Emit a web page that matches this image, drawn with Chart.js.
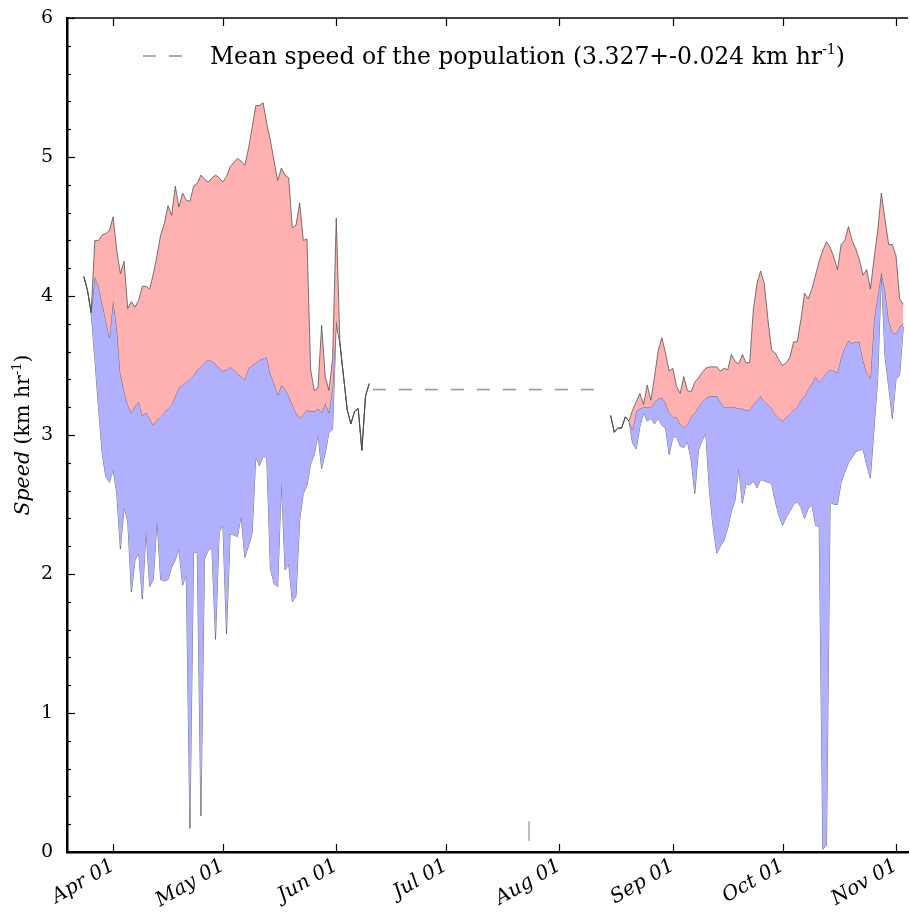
<!DOCTYPE html>
<html>
<head>
<meta charset="utf-8">
<script src="https://cdn.jsdelivr.net/npm/chart.js@4.4.1/dist/chart.umd.min.js"></script>
<style>
  html, body { margin: 0; padding: 0; background: #fff; }
  canvas { display: block; }
</style>
</head>
<body>
<canvas id="speed" width="910" height="915"></canvas>
<script>
// days are counted from Apr 01
const monthTicks = [0, 30, 61, 91, 122, 153, 183, 214];
const monthLabels = ['Apr 01', 'May 01', 'Jun 01', 'Jul 01', 'Aug 01', 'Sep 01', 'Oct 01', 'Nov 01'];

// spring block, one value per day starting at leftStart
const leftStart = -8;
const upperLeft = [4.14, 4.04, 3.88, 4.40, 4.40, 4.44, 4.45, 4.47, 4.57, 4.33,
  4.16, 4.25, 3.91, 3.96, 3.92, 3.97, 4.07, 4.07, 4.05, 4.16,
  4.29, 4.44, 4.52, 4.65, 4.58, 4.79, 4.64, 4.74, 4.69, 4.68,
  4.79, 4.81, 4.87, 4.84, 4.82, 4.85, 4.87, 4.85, 4.82, 4.86,
  4.93, 4.96, 4.99, 4.97, 4.94, 5.06, 5.21, 5.37, 5.37, 5.39,
  5.24, 5.12, 4.97, 4.83, 4.92, 4.87, 4.85, 4.49, 4.51, 4.67,
  4.40, 4.41, 3.47, 3.32, 3.34, 3.79, 3.42, 3.32, 3.55, 4.56,
  3.66, 3.42, 3.18, 3.08, 3.17, 3.19, 2.89, 3.28, 3.37];
const middleLeft = [4.14, 4.04, 3.88, 4.14, 4.07, 3.95, 3.83, 3.70, 3.97, 3.78,
  3.44, 3.32, 3.22, 3.16, 3.21, 3.24, 3.14, 3.16, 3.12, 3.07,
  3.11, 3.13, 3.16, 3.19, 3.22, 3.28, 3.34, 3.36, 3.38, 3.40,
  3.43, 3.47, 3.49, 3.52, 3.54, 3.53, 3.51, 3.48, 3.46, 3.47,
  3.49, 3.47, 3.44, 3.42, 3.40, 3.48, 3.50, 3.52, 3.54, 3.55,
  3.56, 3.44, 3.37, 3.29, 3.36, 3.33, 3.28, 3.22, 3.16, 3.12,
  3.15, 3.18, 3.17, 3.17, 3.19, 3.16, 3.23, 3.16, 3.35, 3.83,
  3.66, 3.42, 3.18, 3.08, 3.17, 3.19, 2.89, 3.28, 3.37];
const lowerLeft = [4.14, 4.04, 3.88, 3.55, 3.20, 2.87, 2.70, 2.66, 2.75, 2.58,
  2.18, 2.48, 2.38, 1.87, 2.10, 2.15, 1.82, 2.31, 1.91, 1.96,
  2.39, 1.96, 1.95, 1.96, 2.05, 2.10, 2.18, 1.92, 1.99, 0.17,
  2.15, 2.16, 0.26, 2.11, 2.17, 2.19, 1.53, 2.30, 2.35, 1.57,
  2.29, 2.28, 2.27, 2.42, 2.12, 2.20, 2.29, 2.84, 2.78, 2.85,
  2.83, 2.04, 1.93, 1.91, 2.66, 2.03, 2.07, 1.80, 1.84, 2.39,
  2.58, 2.64, 2.79, 2.86, 3.00, 2.76, 2.87, 3.02, 3.04, 3.80,
  3.66, 3.42, 3.18, 3.08, 3.17, 3.19, 2.89, 3.28, 3.37];

// autumn block
const rightStart = 136;
const upperRight = [3.14, 3.02, 3.05, 3.05, 3.13, 3.10, 3.18, 3.24, 3.30, 3.22,
  3.36, 3.25, 3.42, 3.61, 3.70, 3.59, 3.46, 3.48, 3.35, 3.30,
  3.42, 3.32, 3.31, 3.38, 3.41, 3.45, 3.48, 3.49, 3.49, 3.49,
  3.46, 3.48, 3.47, 3.58, 3.53, 3.51, 3.58, 3.52, 3.52, 3.90,
  4.09, 4.18, 4.09, 3.83, 3.61, 3.59, 3.54, 3.50, 3.52, 3.56,
  3.67, 3.67, 3.83, 4.02, 3.98, 4.05, 4.15, 4.25, 4.33, 4.39,
  4.35, 4.28, 4.19, 4.37, 4.40, 4.50, 4.40, 4.34, 4.26, 4.15,
  4.19, 4.05, 4.27, 4.47, 4.74, 4.55, 4.37, 4.37, 4.29, 3.98, 3.94];
const middleRight = [3.14, 3.02, 3.05, 3.05, 3.13, 3.10, 3.04, 3.17, 3.19, 3.20,
  3.20, 3.20, 3.24, 3.26, 3.27, 3.23, 3.16, 3.13, 3.13, 3.08,
  3.05, 3.08, 3.13, 3.16, 3.20, 3.24, 3.26, 3.28, 3.28, 3.28,
  3.24, 3.20, 3.20, 3.20, 3.20, 3.19, 3.19, 3.18, 3.18, 3.22,
  3.25, 3.28, 3.24, 3.22, 3.19, 3.15, 3.12, 3.10, 3.13, 3.15,
  3.18, 3.20, 3.25, 3.28, 3.33, 3.37, 3.42, 3.38, 3.41, 3.45,
  3.47, 3.46, 3.45, 3.56, 3.63, 3.68, 3.66, 3.67, 3.67, 3.54,
  3.45, 3.41, 3.83, 4.00, 4.17, 4.04, 3.83, 3.74, 3.73, 3.78, 3.80];
const lowerRight = [3.14, 3.02, 3.05, 3.05, 3.13, 3.10, 2.94, 2.90, 3.06, 3.16,
  3.10, 3.12, 3.08, 3.12, 3.07, 3.05, 2.86, 2.98, 2.99, 2.92,
  2.91, 2.95, 2.82, 2.58, 2.89, 2.96, 3.01, 2.60, 2.34, 2.15,
  2.20, 2.24, 2.33, 2.45, 2.53, 2.76, 2.51, 2.65, 2.64, 2.67,
  2.62, 2.68, 2.67, 2.66, 2.65, 2.52, 2.42, 2.35, 2.41, 2.45,
  2.50, 2.52, 2.48, 2.40, 2.47, 2.50, 2.35, 2.34, 0.02, 0.05,
  2.52, 2.50, 2.50, 2.66, 2.73, 2.80, 2.84, 2.88, 2.89, 2.90,
  2.78, 2.69, 3.05, 3.40, 4.17, 3.56, 3.35, 3.12, 3.40, 3.43, 3.78];

const meanSpeed = 3.327;
const meanDays = [71, 132.5];
const strayDay = 113.7;
const strayRange = [0.08, 0.22];

const FONT = "'DejaVu Serif', 'Liberation Serif', serif";
const RED = 'rgb(255,176,176)';
const BLUE = 'rgb(176,176,255)';
const EDGE = 'rgba(70,70,70,0.9)';

function toPoints(start, arr) {
  return arr.map((v, i) => ({x: start + i, y: v}));
}

function band(label, start, arr, fill, color) {
  return {
    label: label,
    data: toPoints(start, arr),
    borderColor: EDGE,
    borderWidth: 0.8,
    backgroundColor: color || 'transparent',
    fill: fill,
    pointRadius: 0,
    tension: 0
  };
}

// draws rich text (superscripts) left to right from x
function drawParts(ctx, parts, x, y) {
  parts.forEach(p => {
    ctx.font = p.font;
    ctx.fillText(p.text, x, y + (p.dy || 0));
    x += ctx.measureText(p.text).width;
  });
}

function partsWidth(ctx, parts) {
  let w = 0;
  parts.forEach(p => { ctx.font = p.font; w += ctx.measureText(p.text).width; });
  return w;
}

const decor = {
  id: 'decor',
  afterDatasetsDraw(chart) {
    const {ctx, chartArea: a, scales: {x, y}} = chart;
    ctx.save();
    ctx.strokeStyle = '#000';
    ctx.lineWidth = 1.5;
    ctx.beginPath();
    ctx.moveTo(a.left, a.top);
    ctx.lineTo(a.right, a.top);
    ctx.stroke();

    ctx.lineWidth = 1.2;
    monthTicks.forEach(m => {
      const px = Math.round(x.getPixelForValue(m)) + 0.5;
      ctx.beginPath();
      ctx.moveTo(px, a.bottom);
      ctx.lineTo(px, a.bottom - 8);
      ctx.moveTo(px, a.top);
      ctx.lineTo(px, a.top + 8);
      ctx.stroke();
    });
    for (let k = 0; k <= 30; k++) {
      const py = Math.round(y.getPixelForValue(k / 5)) + 0.5;
      const len = k % 5 === 0 ? 8 : 4;
      ctx.beginPath();
      ctx.moveTo(a.left, py);
      ctx.lineTo(a.left + len, py);
      ctx.stroke();
    }
    ctx.restore();
  },
  afterDraw(chart) {
    const ctx = chart.ctx;
    ctx.save();
    ctx.fillStyle = '#000';
    ctx.textBaseline = 'alphabetic';

    // legend inside the axes
    ctx.strokeStyle = '#999';
    ctx.lineWidth = 1.6;
    ctx.setLineDash([13, 13]);
    ctx.beginPath();
    ctx.moveTo(143, 56);
    ctx.lineTo(182, 56);
    ctx.stroke();
    ctx.setLineDash([]);
    drawParts(ctx, [
      {text: 'Mean speed of the population (3.327+-0.024 km hr', font: '23.5px ' + FONT},
      {text: '-1', font: '14px ' + FONT, dy: -10},
      {text: ')', font: '23.5px ' + FONT}
    ], 210, 64);

    // y axis title
    const title = [
      {text: 'Speed', font: 'italic 20.5px ' + FONT},
      {text: ' (km hr', font: '20.5px ' + FONT},
      {text: '-1', font: '13px ' + FONT, dy: -8},
      {text: ')', font: '20.5px ' + FONT}
    ];
    const w = partsWidth(ctx, title);
    ctx.translate(29, 435);
    ctx.rotate(-Math.PI / 2);
    drawParts(ctx, title, -w / 2, 0);
    ctx.restore();
  }
};

new Chart(document.getElementById('speed'), {
  type: 'line',
  data: {
    datasets: [
      band('upper', leftStart, upperLeft, '+1', RED),
      band('middle', leftStart, middleLeft, '+1', BLUE),
      band('lower', leftStart, lowerLeft, false),
      band('upper', rightStart, upperRight, '+1', RED),
      band('middle', rightStart, middleRight, '+1', BLUE),
      band('lower', rightStart, lowerRight, false),
      {
        label: 'Mean speed of the population',
        data: meanDays.map(d => ({x: d, y: meanSpeed})),
        borderColor: '#999',
        borderWidth: 1.6,
        borderDash: [13, 13],
        pointRadius: 0,
        fill: false
      },
      {
        label: 'stray',
        data: strayRange.map(v => ({x: strayDay, y: v})),
        borderColor: '#bbb',
        borderWidth: 2,
        pointRadius: 0,
        fill: false
      }
    ]
  },
  options: {
    responsive: false,
    animation: false,
    devicePixelRatio: 1,
    layout: {padding: {top: 18, right: 0, bottom: 0, left: 0}},
    plugins: {
      legend: {display: false},
      tooltip: {enabled: false}
    },
    scales: {
      x: {
        type: 'linear',
        min: -12.6,
        max: 217.3,
        afterFit: (s) => { s.height = 63; },
        afterBuildTicks: (s) => { s.ticks = monthTicks.map(v => ({value: v})); },
        grid: {display: false, drawTicks: false},
        border: {display: true, color: '#000', width: 2.5},
        ticks: {
          autoSkip: false,
          maxRotation: 30,
          minRotation: 30,
          padding: 2,
          color: '#000',
          font: {family: FONT, size: 20, style: 'italic'},
          callback: (v) => monthLabels[monthTicks.indexOf(v)]
        }
      },
      y: {
        min: 0,
        max: 6,
        afterFit: (s) => { s.width = 67; s.paddingTop = 0; s.paddingBottom = 0; },
        grid: {display: false, drawTicks: false},
        border: {display: true, color: '#000', width: 2.5},
        ticks: {
          stepSize: 1,
          padding: 14,
          color: '#000',
          font: {family: FONT, size: 19}
        }
      }
    }
  },
  plugins: [decor]
});
</script>
</body>
</html>
